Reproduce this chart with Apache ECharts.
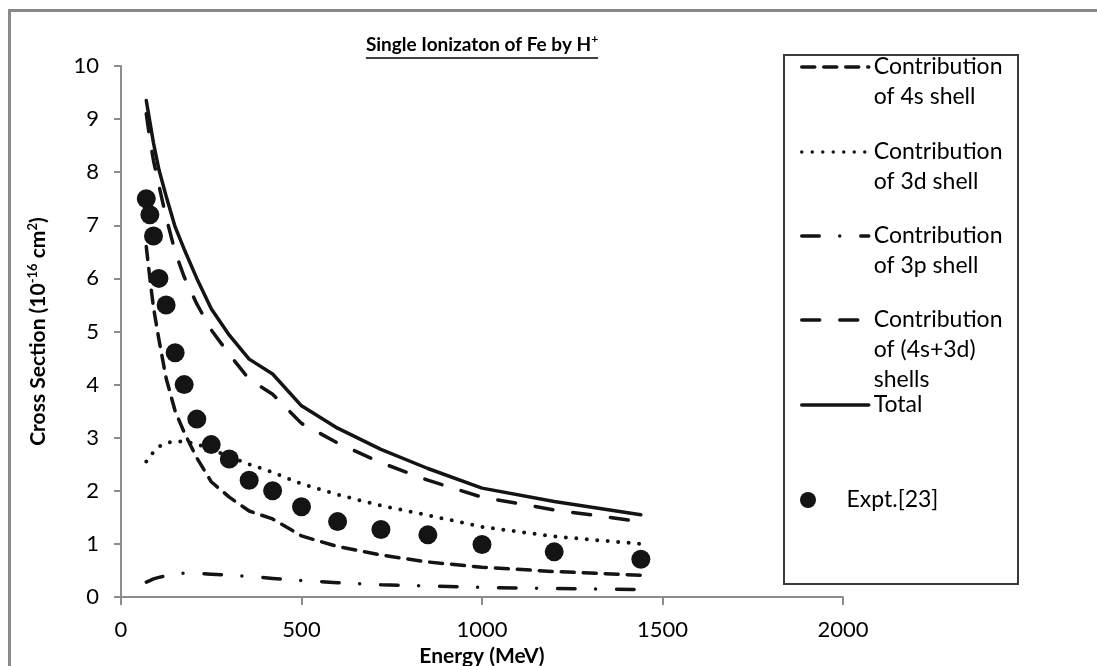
<!DOCTYPE html>
<html><head><meta charset="utf-8">
<script src="https://cdn.jsdelivr.net/npm/echarts@6/dist/echarts.min.js"></script>
<style>html,body{margin:0;padding:0;background:#fff}#c{width:1097px;height:666px}</style>
</head><body><div id="c"></div>
<script>
// ---- data ----
const energy = [70, 80, 90, 105, 125, 150, 175, 210, 250, 300, 355, 420, 500, 600, 720, 850, 1000, 1200, 1440];
const shell4s = [6.6, 6.0, 5.45, 4.85, 4.12, 3.5, 3.1, 2.62, 2.17, 1.88, 1.62, 1.47, 1.15, 0.95, 0.79, 0.66, 0.56, 0.48, 0.41];
const shell3d = [2.55, 2.65, 2.73, 2.83, 2.9, 2.93, 2.93, 2.88, 2.78, 2.64, 2.5, 2.35, 2.13, 1.93, 1.72, 1.54, 1.32, 1.14, 1.0];
const shell3p = [0.28, 0.31, 0.34, 0.37, 0.4, 0.43, 0.45, 0.45, 0.43, 0.41, 0.39, 0.35, 0.31, 0.27, 0.23, 0.21, 0.18, 0.16, 0.14];
const shell4s3d = [9.1, 8.62, 8.22, 7.75, 7.15, 6.5, 6.03, 5.52, 5.03, 4.57, 4.1, 3.82, 3.27, 2.9, 2.53, 2.2, 1.88, 1.64, 1.42];
const total = [9.35, 8.95, 8.55, 8.05, 7.55, 6.97, 6.55, 6.0, 5.43, 4.93, 4.48, 4.2, 3.6, 3.18, 2.78, 2.42, 2.05, 1.8, 1.55];
const exptEnergy = [70, 80, 90, 105, 125, 150, 175, 210, 250, 300, 355, 420, 500, 600, 720, 850, 1000, 1200, 1440];
const expt = [7.5, 7.2, 6.8, 6.0, 5.5, 4.6, 4.0, 3.35, 2.87, 2.6, 2.2, 2.0, 1.7, 1.42, 1.27, 1.17, 0.99, 0.85, 0.71];
const seriesNames = ['Contribution\nof 4s shell', 'Contribution\nof 3d shell', 'Contribution\nof 3p shell', 'Contribution\nof (4s+3d)\nshells', 'Total', 'Expt.[23]'];
const titleText = 'Single Ionizaton of Fe by H';
const titleSup = '+';

// ---- chart ----
const INK = '#141414';
const pair = (xs, ys) => xs.map((x, i) => [x, ys[i]]);
const FONT = 'Lato';

const gridL = 121, gridR = 254, gridT = 66, gridB = 69;
const cx = gridL + (1097 - gridL - gridR) / 2;

// measure title width for underline
const cv = document.createElement('canvas').getContext('2d');
cv.font = 'bold 19px ' + FONT;
let tw = cv.measureText(titleText).width;
cv.font = 'bold 12px ' + FONT;
tw += cv.measureText(titleSup).width;

function lineSeries(name, ys, dash, width) {
  return {
    type: 'line', name: name, data: pair(energy, ys), symbol: 'none', smooth: false,
    lineStyle: { color: INK, width: width, type: dash, cap: 'round', join: 'round' },
    itemStyle: { color: INK }, z: 2, animation: false
  };
}

const legendPos = [
  { name: seriesNames[0], cy: 67, lines: 2 },
  { name: seriesNames[1], cy: 152, lines: 2 },
  { name: seriesNames[2], cy: 236, lines: 2 },
  { name: seriesNames[3], cy: 320, lines: 3 },
  { name: seriesNames[4], cy: 405, lines: 1 },
  { name: seriesNames[5], cy: 500, lines: 1, scatter: true }
];

const option = {
  backgroundColor: '#fff',
  animation: false,
  title: {
    text: '{t|' + titleText + '}{s|' + titleSup + '}',
    left: cx - tw / 2, top: 33, padding: 0,
    textStyle: {
      rich: {
        t: { fontFamily: FONT, fontWeight: 'bold', fontSize: 19, color: '#000', lineHeight: 24 },
        s: { fontFamily: FONT, fontWeight: 'bold', fontSize: 12, color: '#000', verticalAlign: 'top', lineHeight: 24 }
      }
    }
  },
  grid: { left: gridL, right: gridR, top: gridT, bottom: gridB, containLabel: false, outerBoundsMode: 'none' },
  xAxis: {
    type: 'value', min: 0, max: 2000, interval: 500,
    name: 'Energy (MeV)', nameLocation: 'middle', nameGap: 47,
    nameTextStyle: { fontFamily: FONT, fontWeight: 'bold', fontSize: 21, color: '#000' },
    axisLine: { show: true, lineStyle: { color: '#8c8c8c', width: 2 } },
    axisTick: { show: true, length: 8, lineStyle: { color: '#8c8c8c', width: 2 } },
    axisLabel: { fontFamily: FONT, fontSize: 22, color: '#000', margin: 22, formatter: v => String(v) },
    splitLine: { show: false }
  },
  yAxis: {
    type: 'value', min: 0, max: 10, interval: 1,
    name: '{b|Cross Section (10}{s|-16}{b| cm}{s|2}{b|)}', nameLocation: 'middle', nameGap: 70,
    nameTextStyle: {
      rich: {
        b: { fontFamily: FONT, fontWeight: 'bold', fontSize: 21, color: '#000', lineHeight: 25 },
        s: { fontFamily: FONT, fontWeight: 'bold', fontSize: 13, color: '#000', verticalAlign: 'top', lineHeight: 25 }
      }
    },
    axisLine: { show: true, lineStyle: { color: '#8c8c8c', width: 2 } },
    axisTick: { show: true, length: 7, lineStyle: { color: '#8c8c8c', width: 2 } },
    axisLabel: { fontFamily: FONT, fontSize: 22, color: '#000', margin: 22 },
    splitLine: { show: false }
  },
  legend: legendPos.map(it => ({
    data: [it.name], orient: 'vertical', left: 800, top: it.cy - (2 * it.lines - 1) * 15,
    padding: 0, itemWidth: 67, itemHeight: it.scatter ? 16 : 14, selectedMode: false,
    // blank leading lines keep the symbol level with the first text line
    formatter: name => '\n'.repeat(it.lines - 1) + name,
    textStyle: { fontFamily: FONT, fontSize: 23, color: '#000', lineHeight: 30 },
    itemStyle: it.scatter ? {} : { opacity: 0 },
    lineStyle: { width: 3.5 }
  })),
  graphic: [
    { type: 'rect', silent: true, shape: { x: 9.5, y: 10.5, width: 1100, height: 700 },
      style: { fill: 'none', stroke: '#8a8a8a', lineWidth: 3 } },
    { type: 'rect', silent: true, shape: { x: 784, y: 55, width: 234, height: 529 },
      style: { fill: 'none', stroke: '#3a3a3a', lineWidth: 2 } },
    { type: 'line', silent: true, shape: { x1: cx - tw / 2, y1: 58, x2: cx + tw / 2, y2: 58 },
      style: { stroke: '#000', lineWidth: 1.5 } }
  ],
  series: [
    lineSeries(seriesNames[0], shell4s, [13, 9], 3.5),
    lineSeries(seriesNames[1], shell3d, [0, 10.5], 4),
    lineSeries(seriesNames[2], shell3p, [17.5, 20.5, 0, 21], 3.5),
    lineSeries(seriesNames[3], shell4s3d, [18, 20], 3.5),
    lineSeries(seriesNames[4], total, 'solid', 3.5),
    {
      type: 'scatter', name: seriesNames[5], data: pair(exptEnergy, expt),
      symbol: 'circle', symbolSize: 19, itemStyle: { color: INK, opacity: 1 }, z: 3, animation: false
    }
  ]
};

const chart = echarts.init(document.getElementById('c'), null, { renderer: 'canvas' });
chart.setOption(option);
</script>
</body></html>
